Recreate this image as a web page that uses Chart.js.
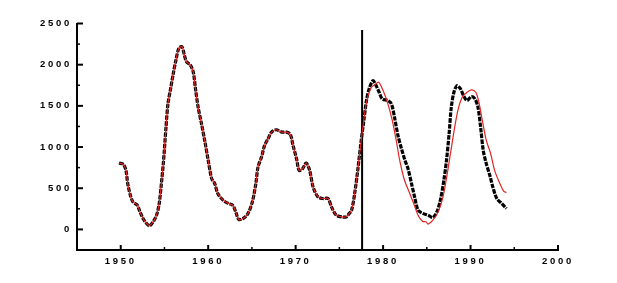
<!DOCTYPE html>
<html>
<head>
<meta charset="utf-8">
<script src="https://cdn.jsdelivr.net/npm/chart.js@4"></script>
<style>body{margin:0;background:#fff}</style>
</head>
<body>
<canvas id="c" width="617" height="283"></canvas>
<script>
// observed series (black squares)
const obsYears = [1949.8, 1950.3, 1950.6, 1950.8, 1951.1, 1951.4, 1951.9, 1952.2, 1952.55, 1952.95,
  1953.3, 1953.7, 1954.1, 1954.4, 1954.65, 1954.9, 1955.15, 1955.4, 1955.7, 1956.0,
  1956.3, 1956.65, 1957.0, 1957.25, 1957.5, 1958.0, 1958.3, 1958.55, 1958.85, 1959.2,
  1959.6, 1960.0, 1960.4, 1960.75, 1961.1, 1961.7, 1962.3, 1962.8, 1963.15, 1963.5,
  1964.0, 1964.55, 1965.05, 1965.45, 1965.7, 1966.1, 1966.45, 1966.85, 1967.25, 1967.8,
  1968.4, 1968.95, 1969.4, 1969.7, 1970.1, 1970.4, 1970.8, 1971.2, 1971.6, 1972.0,
  1972.55, 1973.1, 1973.7, 1974.1, 1974.65, 1975.4, 1975.8, 1976.1, 1976.4, 1976.75,
  1977.1, 1977.5, 1977.8, 1978.1, 1978.4, 1978.85, 1979.2, 1979.55, 1979.9, 1980.55,
  1980.95, 1981.3, 1981.7, 1982.1, 1982.5, 1982.85, 1983.25, 1983.6, 1984.0, 1984.55,
  1985.15, 1985.7, 1986.15, 1986.55, 1986.95, 1987.25, 1987.55, 1987.8, 1988.1, 1988.45,
  1988.85, 1989.2, 1989.6, 1990.1, 1990.5, 1990.85, 1991.15, 1991.45, 1991.8, 1992.2,
  1992.55, 1993.0, 1993.55, 1994.1];
const obsValues = [806, 790, 717, 557, 415, 334, 294, 213, 133, 72,
  44, 92, 173, 315, 557, 839, 1202, 1525, 1706, 1888,
  2049, 2202, 2218, 2130, 2040, 1988, 1907, 1706, 1484, 1302,
  1081, 839, 617, 557, 436, 355, 315, 294, 213, 121,
  133, 194, 334, 557, 758, 879, 1020, 1101, 1181, 1210,
  1181, 1181, 1153, 1020, 859, 717, 738, 806, 717, 515,
  395, 375, 375, 274, 173, 150, 153, 190, 234, 436,
  717, 1081, 1323, 1565, 1706, 1807, 1746, 1665, 1585, 1565,
  1525, 1363, 1141, 980, 839, 738, 557, 395, 234, 194,
  173, 145, 213, 355, 597, 839, 1162, 1484, 1665, 1746,
  1706, 1625, 1565, 1613, 1585, 1484, 1242, 960, 799, 657,
  515, 375, 315, 254];

// model series (red line), follows the observations up to the split
const predYears = [1978.1, 1978.65, 1979.1, 1979.5, 1980.0, 1980.55, 1981.05, 1981.5, 1981.9, 1982.45,
  1983.05, 1983.5, 1984.0, 1984.5, 1984.9, 1985.15, 1985.7, 1986.3, 1986.85, 1987.4,
  1988.0, 1988.55, 1989.05, 1989.6, 1990.1, 1990.6, 1990.95, 1991.35, 1991.8, 1992.3,
  1992.75, 1993.35, 1993.8, 1994.1];
const predValues = [1545, 1726, 1760, 1787, 1686, 1525, 1323, 1081, 839, 597,
  436, 315, 173, 100, 92, 64, 113, 213, 395, 717,
  1121, 1444, 1605, 1665, 1694, 1665, 1544, 1323, 1081, 920,
  717, 557, 463, 448];

const splitYear = 1977.6;
const splitSpan = [-250, 2420];

const xLabels = [1950, 1960, 1970, 1980, 1990, 2000];
const yLabels = [0, 500, 1000, 1500, 2000, 2500];

const obsData = obsYears.map((x, i) => ({ x, y: obsValues[i] }));
const redData = obsData.filter(p => p.x < splitYear)
    .concat(predYears.map((x, i) => ({ x, y: predValues[i] })));

// ticks point into the plot, so draw them by hand
const inwardTicks = {
    id: 'inwardTicks',
    beforeDraw(chart) {
        chart.ctx.letterSpacing = '2.7px';
    },
    afterDraw(chart) {
        const { ctx, scales: { x, y } } = chart;
        ctx.save();
        ctx.strokeStyle = '#000';
        x.ticks.forEach(t => {
            const px = x.getPixelForValue(t.value);
            const major = xLabels.includes(t.value);
            ctx.lineWidth = major ? 2 : 1.5;
            ctx.beginPath();
            ctx.moveTo(px, y.bottom);
            ctx.lineTo(px, y.bottom - (major ? 5 : 3));
            ctx.stroke();
        });
        y.ticks.forEach(t => {
            if (t.value < 0) return;
            const py = y.getPixelForValue(t.value);
            const major = yLabels.includes(t.value);
            ctx.lineWidth = major ? 2 : 1.5;
            ctx.beginPath();
            ctx.moveTo(x.left, py);
            ctx.lineTo(x.left + (major ? 6 : 3), py);
            ctx.stroke();
        });
        ctx.restore();
    }
};

const tickFont = { family: 'Liberation Sans', size: 9.5, weight: 'bold' };

new Chart(document.getElementById('c').getContext('2d'), {
    type: 'line',
    data: {
        datasets: [{
            data: redData,
            borderColor: '#e02424',
            borderWidth: 1.2,
            pointRadius: 0,
            tension: 0.3
        }, {
            data: obsData,
            borderColor: '#000',
            borderWidth: 3.2,
            borderDash: [4.5, 1.2],
            pointRadius: 0,
            tension: 0.3
        }, {
            data: splitSpan.map(v => ({ x: splitYear, y: v })),
            borderColor: '#000',
            borderWidth: 2,
            pointRadius: 0
        }]
    },
    options: {
        responsive: false,
        animation: false,
        layout: { padding: { left: 0, right: 59, top: 23.5, bottom: 0 } },
        plugins: { legend: { display: false }, tooltip: { enabled: false } },
        scales: {
            x: {
                type: 'linear',
                min: 1945,
                max: 2000,
                afterFit: s => { s.height = 33; },
                grid: { display: false, drawTicks: false },
                border: { color: '#000', width: 2 },
                ticks: {
                    stepSize: 5,
                    padding: 6,
                    color: '#000',
                    font: tickFont,
                    maxRotation: 0,
                    autoSkip: false,
                    callback: v => xLabels.includes(v) ? String(v) : ''
                }
            },
            y: {
                min: -250,
                max: 2500,
                afterFit: s => { s.width = 77; },
                grid: { display: false, drawTicks: false },
                border: { color: '#000', width: 2 },
                ticks: {
                    stepSize: 250,
                    padding: 5,
                    color: '#000',
                    font: tickFont,
                    autoSkip: false,
                    callback: v => yLabels.includes(v) ? String(v) : ''
                }
            }
        }
    },
    plugins: [inwardTicks]
});
</script>
</body>
</html>
